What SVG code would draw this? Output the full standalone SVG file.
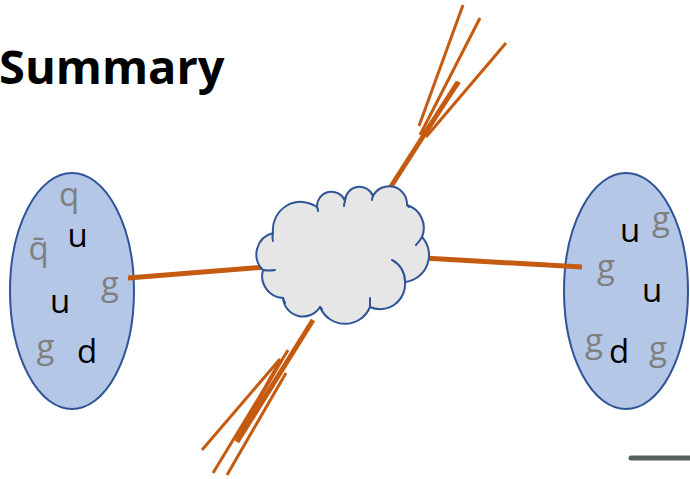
<svg xmlns="http://www.w3.org/2000/svg" width="690" height="479" viewBox="0 0 690 479">
  <style>
    .proton { fill: #b4c7e7; stroke: #2f5597; stroke-width: 2; }
    .parton { font-family: "Open Sans", "Liberation Sans", sans-serif; font-size: 33px; text-anchor: middle; }
    .quark { fill: #000000; }
    .sea { fill: #7f7f7f; }
    .jet { stroke: #c55a11; fill: none; stroke-linecap: butt; }
    .title { font-family: "Open Sans", "Liberation Sans", sans-serif; font-weight: bold; font-size: 47px; fill: #000000; }
  </style>

  <text class="title" x="-1" y="84">Summary</text>

  <!-- incoming proton A -->
  <g id="proton-left">
    <ellipse class="proton" cx="72" cy="291" rx="62" ry="118"/>
    <text class="parton sea" x="69" y="206">q</text>
    <text class="parton sea" x="38.5" y="260">q&#x304;</text>
    <text class="parton quark" x="77.5" y="247">u</text>
    <text class="parton sea" x="110" y="295">g</text>
    <text class="parton quark" x="60" y="313">u</text>
    <text class="parton sea" x="45.5" y="358">g</text>
    <text class="parton quark" x="87" y="363">d</text>
  </g>

  <!-- incoming proton B -->
  <g id="proton-right">
    <ellipse class="proton" cx="626" cy="291" rx="62" ry="118"/>
    <text class="parton quark" x="630" y="242">u</text>
    <text class="parton sea" x="661" y="230">g</text>
    <text class="parton sea" x="606" y="278">g</text>
    <text class="parton quark" x="652" y="302">u</text>
    <text class="parton sea" x="594" y="352">g</text>
    <text class="parton quark" x="619" y="363">d</text>
    <text class="parton sea" x="658" y="360">g</text>
  </g>

  <!-- connectors: partons into the hard scatter, and outgoing jets -->
  <g id="connectors">
    <line class="jet" x1="128" y1="278" x2="266" y2="267" stroke-width="5"/>
    <line class="jet" x1="424" y1="258" x2="582" y2="267" stroke-width="5"/>

    <!-- upper jet -->
    <line class="jet" x1="390" y1="188" x2="458" y2="82" stroke-width="5"/>
    <line class="jet" x1="423" y1="135" x2="459" y2="82" stroke-width="4"/>
    <line class="jet" x1="419" y1="126" x2="463" y2="5" stroke-width="3"/>
    <line class="jet" x1="420" y1="135" x2="480" y2="18" stroke-width="3"/>
    <line class="jet" x1="426" y1="137" x2="506" y2="43" stroke-width="3"/>

    <!-- lower jet -->
    <line class="jet" x1="313" y1="320" x2="237" y2="442" stroke-width="5"/>
    <line class="jet" x1="281" y1="360" x2="236" y2="440" stroke-width="4"/>
    <line class="jet" x1="288" y1="350" x2="213" y2="473" stroke-width="3"/>
    <line class="jet" x1="280" y1="359" x2="202" y2="450" stroke-width="3"/>
    <line class="jet" x1="286" y1="373" x2="227" y2="475" stroke-width="3"/>
  </g>

  <!-- hard scattering blob -->
  <g id="hard-scatter">
    <path d="M263,270 A22,22 0 0 1 273,233 A28,28 0 0 1 317,207 A14.5,14.5 0 0 1 345,201 A14.5,14.5 0 0 1 373,196 A18,18 0 0 1 407,205 A24,24 0 0 1 422,237 A27,27 0 0 1 405,282 A25,25 0 0 1 370,307 A27,27 0 0 1 320,307 A20,20 0 0 1 283,298 A22,22 0 0 1 263,270 Z"
          fill="#e7e6e6" stroke="#2f5597" stroke-width="2" stroke-linejoin="round"/>
    <path d="M263,270 Q269,271 275,270 M273,233 Q272,237 273,241 M317,207 Q318,209 318,211 M345,201 Q344,204 344,206 M373,196 Q372,198 372,200 M407,205 Q408,206 409,207 M422,237 Q419,242 416,245 M392,260 A24,24 0 0 1 405,282 M370,307 Q370,303 370,298 M320,307 Q321,308 322,309 M283,298 Q284,301 285,303"
          fill="none" stroke="#2f5597" stroke-width="2" stroke-linecap="round"/>
  </g>

  <line x1="631" y1="458" x2="690" y2="458" stroke="#56605e" stroke-width="5" stroke-linecap="round"/>
</svg>
